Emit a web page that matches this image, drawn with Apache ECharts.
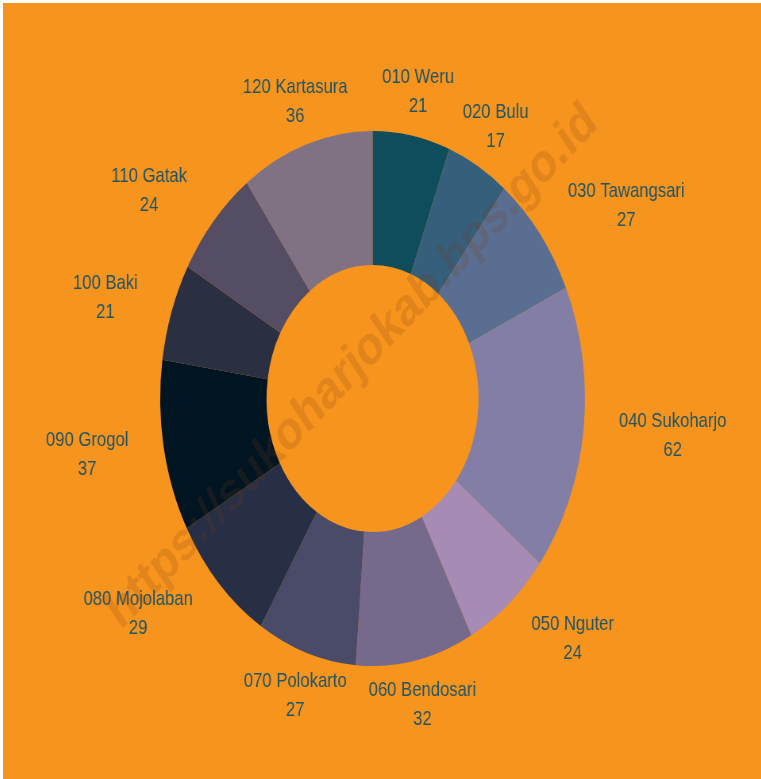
<!DOCTYPE html>
<html>
<head>
<meta charset="utf-8">
<title>Kecamatan Sukoharjo</title>
<script src="https://cdn.jsdelivr.net/npm/echarts@6/dist/echarts.min.js"></script>
<style>
    html, body { margin: 0; padding: 0; background: #ffffff; }
    /* the reference is horizontally squeezed, so draw wide and scale down */
    #chart {
        position: absolute; left: 3px; top: 3px;
        width: 955px; height: 776px;
        transform: scaleX(0.794); transform-origin: 0 0;
    }
</style>
</head>
<body>
<div id="chart"></div>
<script>
// Data
const categories = ['010 Weru', '020 Bulu', '030 Tawangsari', '040 Sukoharjo', '050 Nguter',
    '060 Bendosari', '070 Polokarto', '080 Mojolaban', '090 Grogol', '100 Baki',
    '110 Gatak', '120 Kartasura'];
const values = [21, 17, 27, 62, 24, 32, 27, 29, 37, 21, 24, 36];
const colors = ['#0f4c5c', '#365f7c', '#5a6e92', '#837ea5', '#a68cb4', '#766a8c',
    '#4a4b69', '#262f45', '#001421', '#2a2f41', '#544d64', '#807282'];

const pieData = categories.map((name, i) => ({ name: name, value: values[i] }));
const total = values.reduce((a, b) => a + b, 0);

// mid angle of each slice, degrees clockwise from 12 o'clock
function midAngle(idx) {
    let before = 0;
    for (let i = 0; i < idx; i++) before += values[i];
    return (before + values[idx] / 2) / total * 360;
}

const center = [465.4, 395.5];

const chart = echarts.init(document.getElementById('chart'));
chart.setOption({
    backgroundColor: '#f7941d',
    animation: false,
    color: colors,
    graphic: [{
        type: 'text',
        x: 440, y: 364,
        rotation: 39.9 * Math.PI / 180,
        z: 100,
        silent: true,
        style: {
            text: 'https://sukoharjokab.bps.go.id',
            font: 'bold 54px "Liberation Sans", sans-serif',
            fill: 'rgba(120, 60, 20, 0.18)',
            align: 'center',
            verticalAlign: 'middle'
        }
    }],
    series: [
        {
            type: 'pie',
            center: center,
            radius: [133.5, 267.5],
            startAngle: 90,
            clockwise: true,
            silent: true,
            label: { show: false },
            labelLine: { show: false },
            data: pieData
        },
        {
            // invisible ring that only carries the labels
            type: 'pie',
            center: center,
            radius: [300, 312.5],
            startAngle: 90,
            clockwise: true,
            silent: true,
            avoidLabelOverlap: false,
            itemStyle: { color: 'rgba(0,0,0,0)' },
            label: {
                show: true,
                position: 'outside',
                distanceToLabelLine: 0,
                formatter: '{b}\n{c}',
                fontFamily: '"Liberation Sans", Arial, sans-serif',
                fontSize: 21,
                lineHeight: 29,
                color: '#1f5566'
            },
            labelLine: { show: false, length: 0, length2: 0 },
            labelLayout: function (params) {
                const r = params.labelRect;
                const a = midAngle(params.dataIndex) * Math.PI / 180;
                let x;
                if (Math.abs(Math.cos(a)) > Math.cos(35 * Math.PI / 180)) {
                    // near top / bottom: centre the block on the anchor
                    x = params.align === 'right' ? r.x + r.width : r.x;
                } else {
                    // sides: keep the block where it is, centre the lines
                    x = r.x + r.width / 2;
                }
                return { x: x, y: r.y + r.height / 2, align: 'center', verticalAlign: 'middle' };
            },
            data: pieData
        }
    ]
});
</script>
</body>
</html>
